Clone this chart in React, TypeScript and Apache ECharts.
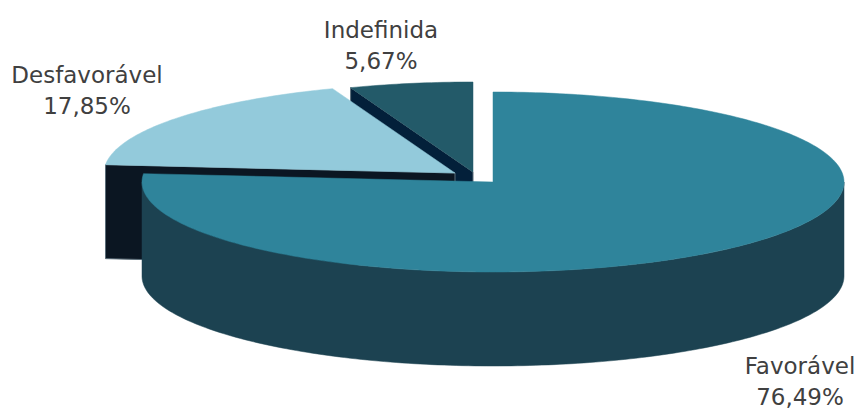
import React, { useEffect, useRef } from "react";
import * as echarts from "echarts";

// ---- data ----
const categories = ["Favorável", "Desfavorável", "Indefinida"];
const values = [76.49, 17.85, 5.67];

// ---- styles / layout (kept apart from the data) ----
const topColors = ["#2F849B", "#93CADB", "#235A69"];
const wallColors = ["#1C4251", "#1C4251", "#163D48"];
const cutColors = ["#0B1622", "#0B1622", "#03203A"];
const explode = [
  [0, 0],
  [-38, -9],
  [-20, -10],
];
const labelPos = [
  [800, 381],
  [87, 90],
  [381, 45],
];
const drawOrder = [2, 1, 0]; // back to front
const PIE = { cx: 493, cy: 182, rx: 351, ry: 90, depth: 94 };

const fmtPct = (v: number) => v.toFixed(2).replace(".", ",") + "%";

export default function App() {
  const ref = useRef<HTMLDivElement>(null);
  useEffect(() => {
    if (!ref.current) return;
    const chart = echarts.init(ref.current, undefined, { renderer: "svg" });
    const total = values.reduce((a, b) => a + b, 0);

    const renderItem = (params: any, api: any) => {
      const i = api.value(0) as number;
      let start = 0;
      for (let k = 0; k < i; k++) start += (values[k] / total) * 360;
      const end = start + (api.value(1) / total) * 360;
      const cx = PIE.cx + explode[i][0];
      const cy = PIE.cy + explode[i][1];
      const D = PIE.depth;
      const pt = (deg: number, dz = 0) => {
        const r = (deg * Math.PI) / 180;
        return [cx + PIE.rx * Math.sin(r), cy - PIE.ry * Math.cos(r) + dz];
      };
      const arc = (a: number, b: number, dz: number) => {
        const pts: number[][] = [];
        const n = Math.max(2, Math.ceil(Math.abs(b - a)));
        for (let s = 0; s <= n; s++) pts.push(pt(a + ((b - a) * s) / n, dz));
        return pts;
      };
      const poly = (points: number[][], fill: string, stroke?: string) => ({
        type: "polygon",
        shape: { points },
        style: { fill, stroke: stroke || fill, lineWidth: stroke ? 1 : 0.5 },
      });
      const visible = (normalDeg: number) =>
        -Math.cos((normalDeg * Math.PI) / 180) > 1e-6;
      const cutFace = (deg: number) => {
        const p = pt(deg);
        return [
          [cx, cy],
          p,
          [p[0], p[1] + D],
          [cx, cy + D],
        ];
      };
      const children: any[] = [];
      if (visible(start - 90))
        children.push(poly(cutFace(start), cutColors[i], "#5a6c78"));
      if (visible(end + 90))
        children.push(poly(cutFace(end), cutColors[i], "#5a6c78"));
      const w0 = Math.max(start, 90);
      const w1 = Math.min(end, 270);
      if (w1 > w0) {
        const top = arc(w0, w1, 0);
        const bot = arc(w1, w0, D);
        children.push(poly(top.concat(bot), wallColors[i]));
      }
      children.push(poly([[cx, cy], ...arc(start, end, 0)], topColors[i]));
      children.push({
        type: "text",
        style: {
          text: categories[i] + "\n" + fmtPct(api.value(1)),
          x: labelPos[i][0],
          y: labelPos[i][1],
          fill: "#404040",
          fontSize: 23,
          fontFamily: "DejaVu Sans",
          lineHeight: 31,
          align: "center",
          verticalAlign: "middle",
        },
      });
      return { type: "group", children };
    };

    chart.setOption({
      animation: false,
      backgroundColor: "#ffffff",
      series: [
        {
          type: "custom",
          coordinateSystem: "none",
          silent: true,
          renderItem,
          data: drawOrder.map((i) => ({ name: categories[i], value: [i, values[i]] })),
        },
      ],
    });
    return () => chart.dispose();
  }, []);
  return (
    <div
      ref={ref}
      style={{ position: "absolute", left: 0, top: 0, width: 859, height: 408 }}
    />
  );
}
